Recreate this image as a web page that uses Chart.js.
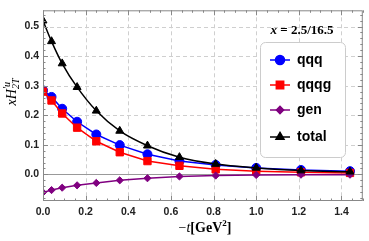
<!DOCTYPE html>
<html>
<head>
<meta charset="utf-8">
<script src="https://cdn.jsdelivr.net/npm/chart.js@4.4.0/dist/chart.umd.min.js"></script>
<style>
  html, body { margin: 0; padding: 0; background: #fff; }
  canvas { display: block; }
</style>
</head>
<body>
<canvas id="grafico" width="369" height="241"></canvas>
<script>
// valores
const tValores = [0, 0.04, 0.09, 0.16, 0.25, 0.36, 0.49, 0.64, 0.81, 1.0, 1.21, 1.44];
const qqq   = [0.284, 0.262, 0.222, 0.178, 0.135, 0.099, 0.068, 0.045, 0.032, 0.022, 0.015, 0.011];
const qqqg  = [0.280, 0.250, 0.206, 0.158, 0.112, 0.075, 0.045, 0.029, 0.017, 0.011, 0.007, 0.005];
const gen   = [-0.061, -0.053, -0.045, -0.037, -0.029, -0.020, -0.013, -0.007, -0.004, -0.002, -0.001, -0.001];
const total = [0.520, 0.450, 0.375, 0.295, 0.215, 0.147, 0.097, 0.058, 0.035, 0.022, 0.013, 0.009];

const xTicks = [0.0, 0.2, 0.4, 0.6, 0.8, 1.0, 1.2, 1.4];
const yTicks = [0.0, 0.1, 0.2, 0.3, 0.4, 0.5];
const nombres = ['qqq', 'qqqg', 'gen', 'total'];
const colores = ['#0000ff', '#ff0000', '#800080', '#000000'];
const marcas = ['circle', 'rect', 'rectRot', 'triangle'];
const radios = [4.5, 5.2, 3.6, 4.6];

const puntos = (serie) => tValores.map((t, i) => ({ x: t, y: serie[i] }));
const series = [qqq, qqqg, gen, total];

const fuenteTicks = { family: 'Liberation Sans', size: 10.5, weight: 'bold' };

// rejilla, marco, titulos y leyenda
const decoracion = {
    id: 'decoracion',
    beforeDatasetsDraw(chart) {
        const { ctx, chartArea: a, scales: { x, y } } = chart;
        ctx.save();
        ctx.strokeStyle = '#cfcfcf';
        ctx.lineWidth = 1;
        ctx.setLineDash([4, 3]);
        xTicks.forEach(v => {
            if (v === 0) return;
            const px = Math.round(x.getPixelForValue(v)) + 0.5;
            ctx.beginPath(); ctx.moveTo(px, a.top); ctx.lineTo(px, a.bottom); ctx.stroke();
        });
        yTicks.forEach(v => {
            if (v === 0) return;
            const py = Math.round(y.getPixelForValue(v)) + 0.5;
            ctx.beginPath(); ctx.moveTo(a.left, py); ctx.lineTo(a.right, py); ctx.stroke();
        });
        ctx.setLineDash([]);
        ctx.strokeStyle = '#999';
        const y0 = Math.round(y.getPixelForValue(0)) + 0.5;
        ctx.beginPath(); ctx.moveTo(a.left, y0); ctx.lineTo(a.right, y0); ctx.stroke();
        ctx.restore();
    },
    afterDatasetsDraw(chart) {
        const { ctx, chartArea: a, scales: { x, y } } = chart;
        ctx.save();
        // marco con marcas
        ctx.strokeStyle = '#888';
        ctx.lineWidth = 1;
        ctx.strokeRect(a.left + 0.5, a.top + 0.5, a.right - a.left - 1, a.bottom - a.top - 1);
        ctx.beginPath();
        for (let k = 0; k <= 30; k++) {
            const v = k * 0.05;
            const px = Math.round(x.getPixelForValue(v)) + 0.5;
            const largo = (k % 4 === 0) ? 5 : 2.5;
            ctx.moveTo(px, a.bottom); ctx.lineTo(px, a.bottom - largo);
            ctx.moveTo(px, a.top); ctx.lineTo(px, a.top + largo);
        }
        for (let k = -4; k <= 27; k++) {
            const v = k * 0.02;
            const py = Math.round(y.getPixelForValue(v)) + 0.5;
            const largo = (k % 5 === 0) ? 5 : 2.5;
            ctx.moveTo(a.left, py); ctx.lineTo(a.left + largo, py);
            ctx.moveTo(a.right, py); ctx.lineTo(a.right - largo, py);
        }
        ctx.stroke();

        // leyenda
        const caja = { x: 260.5, y: 42.5, w: 85, h: 115 };
        ctx.fillStyle = '#fff';
        ctx.strokeStyle = '#cccccc';
        ctx.beginPath();
        ctx.roundRect(caja.x, caja.y, caja.w, caja.h, 5);
        ctx.fill(); ctx.stroke();

        const filas = [60, 85, 110, 137];
        filas.forEach((fy, i) => {
            ctx.strokeStyle = colores[i];
            ctx.lineWidth = 1.5;
            ctx.beginPath(); ctx.moveTo(270, fy); ctx.lineTo(290, fy); ctx.stroke();
            Chart.helpers.drawPoint(ctx, {
                pointStyle: marcas[i], radius: radios[i], borderWidth: 1
            }, 280, fy);
            ctx.fillStyle = colores[i];
            ctx.fill();
            ctx.fillStyle = '#000';
            ctx.font = 'bold 14px "Liberation Sans"';
            ctx.textBaseline = 'middle';
            ctx.textAlign = 'left';
            ctx.fillText(nombres[i], 297, fy);
        });

        // titulo de la leyenda
        ctx.fillStyle = '#000';
        ctx.textBaseline = 'alphabetic';
        const partesT = [
            ['x', 'italic bold 13px "Liberation Serif"'],
            [' = 2.5/16.5', 'bold 13px "Liberation Serif"']
        ];
        let anchoT = 0;
        partesT.forEach(([s, f]) => { ctx.font = f; anchoT += ctx.measureText(s).width; });
        let cx = 302 - anchoT / 2;
        partesT.forEach(([s, f]) => { ctx.font = f; ctx.fillText(s, cx, 34); cx += ctx.measureText(s).width; });

        // titulo eje x
        const partesX = [
            ['\u2212', '14px "Liberation Serif"', 0],
            ['t', 'italic 14px "Liberation Serif"', 0],
            ['[GeV', 'bold 14px "Liberation Serif"', 0],
            ['2', 'bold 9px "Liberation Serif"', -6],
            [']', 'bold 14px "Liberation Serif"', 0]
        ];
        let anchoX = 0;
        partesX.forEach(([s, f]) => { ctx.font = f; anchoX += ctx.measureText(s).width; });
        cx = 205 - anchoX / 2;
        partesX.forEach(([s, f, dy]) => { ctx.font = f; ctx.fillText(s, cx, 232 + dy); cx += ctx.measureText(s).width; });

        // titulo eje y
        ctx.translate(16, 92);
        ctx.rotate(-Math.PI / 2);
        const partesY = [
            ['xH', 'italic 14px "Liberation Serif"', 0, true],
            ['\u2032u', 'italic 10px "Liberation Serif"', -6, false],
            ['2T', 'italic 10px "Liberation Serif"', 3, true]
        ];
        let anchoY = 0;
        partesY.forEach(([s, f, dy, avanza]) => { ctx.font = f; if (avanza) anchoY += ctx.measureText(s).width; });
        cx = -anchoY / 2;
        partesY.forEach(([s, f, dy, avanza]) => {
            ctx.font = f;
            ctx.fillText(s, cx, dy);
            if (avanza) cx += ctx.measureText(s).width;
        });
        ctx.restore();
    }
};

const grafico = new Chart(document.getElementById('grafico').getContext('2d'), {
    type: 'line',
    data: {
        datasets: series.map((serie, i) => ({
            label: nombres[i],
            data: puntos(serie),
            borderColor: colores[i],
            backgroundColor: colores[i],
            pointBackgroundColor: colores[i],
            pointBorderColor: colores[i],
            pointStyle: marcas[i],
            pointRadius: radios[i],
            pointBorderWidth: 1,
            borderWidth: 1.5,
            cubicInterpolationMode: i === 3 ? 'monotone' : 'default',
            tension: 0,
            order: 3 - i
        }))
    },
    options: {
        responsive: false,
        animation: false,
        devicePixelRatio: 1,
        layout: { padding: { left: 0, right: 2, top: 1, bottom: 0 } },
        plugins: {
            legend: { display: false },
            tooltip: { enabled: false }
        },
        scales: {
            x: {
                type: 'linear',
                min: 0,
                max: 1.5,
                afterBuildTicks: (scale) => { scale.ticks = xTicks.map(v => ({ value: v })); },
                afterFit: (scale) => { scale.height = 40; },
                grid: { display: false, drawTicks: false },
                border: { display: false },
                ticks: {
                    color: '#222',
                    font: fuenteTicks,
                    padding: 5,
                    maxRotation: 0,
                    callback: (v) => v.toFixed(1)
                }
            },
            y: {
                type: 'linear',
                min: -0.09,
                max: 0.555,
                afterBuildTicks: (scale) => { scale.ticks = yTicks.map(v => ({ value: v })); },
                afterFit: (scale) => { scale.width = 43; },
                grid: { display: false, drawTicks: false },
                border: { display: false },
                ticks: {
                    color: '#222',
                    font: fuenteTicks,
                    padding: 4,
                    callback: (v) => v.toFixed(1)
                }
            }
        }
    },
    plugins: [decoracion]
});
</script>
</body>
</html>
